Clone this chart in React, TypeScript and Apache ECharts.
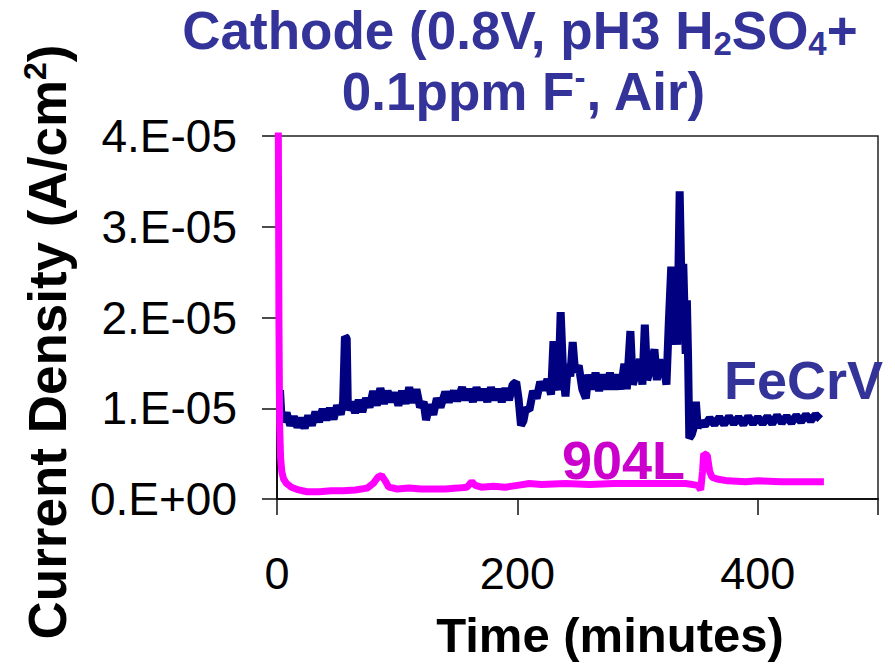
import React, { useEffect, useRef } from "react";
import * as echarts from "echarts";

const FONT = "'Liberation Sans', Arial, Helvetica, sans-serif";

// Time axis ticks (minutes) and current-density tick labels (A/cm²)
const xTickLabels = ["0", "200", "400"];
const yTickLabels = ["0.E+00", "1.E-05", "2.E-05", "3.E-05", "4.E-05"];

// FeCrV series: time (min) and current density (units of 1e-5 A/cm²)
const fecrvT = [
  2.5, 3.5, 5, 8, 11, 14, 17, 20, 23, 26, 29, 32, 35, 38, 41, 44, 47, 50, 53, 55,
  56.5, 58, 59, 62, 65, 68, 71, 74, 77, 80, 83, 86, 89, 92, 95, 98, 101, 104, 107, 110,
  113, 116, 119, 122, 124, 127, 130, 133, 136, 140, 143, 147, 150, 154, 157, 160, 163, 166, 169, 172,
  175, 178, 181, 184, 187, 190, 193, 196, 199, 201, 203, 205, 207, 210, 213, 216, 219, 222, 225, 228,
  230, 232, 234, 236, 238, 240, 242, 244, 246, 248, 251, 254, 257, 259, 262, 265, 268, 271, 274, 277,
  280, 283, 286, 289, 291, 294, 296, 299, 302, 304, 306, 308, 311, 314, 316, 318, 320, 322, 324, 326,
  328, 330, 331, 333, 335, 337, 338, 340, 341, 342, 343, 345, 347, 348.5, 350, 353, 356, 360, 364, 368,
  372, 376, 380, 384, 388, 392, 396, 400, 404, 408, 412, 416, 420, 424, 428, 432, 436, 440, 444, 448, 452,
];
const fecrvV = [
  1.2, 0.95, 0.85, 0.95, 0.81, 0.91, 0.79, 0.89, 0.78, 0.92, 0.81, 0.96, 0.85, 0.99, 0.87, 1.0, 0.88, 1.03, 0.93, 1.07,
  1.79, 1.77, 0.98, 1.07, 0.95, 1.09, 0.96, 1.11, 1.01, 1.19, 1.03, 1.22, 1.05, 1.19, 1.07, 1.17, 1.03, 1.19, 1.05, 1.23,
  1.06, 1.21, 1.01, 1.07, 0.87, 1.04, 0.93, 1.11, 1.01, 1.18, 1.07, 1.19, 1.08, 1.23, 1.09, 1.21, 1.07, 1.23, 1.09, 1.21,
  1.07, 1.23, 1.09, 1.21, 1.07, 1.22, 1.09, 1.26, 1.29, 1.1, 0.81, 0.86, 1.0, 0.98, 1.19, 1.11, 1.29, 1.2, 1.32, 1.15,
  1.74, 1.3, 1.2, 2.06, 1.4, 1.13, 1.49, 1.35, 1.73, 1.4, 1.47, 1.21, 1.11, 1.37, 1.21, 1.39, 1.19, 1.37, 1.21, 1.39,
  1.21, 1.37, 1.21, 1.49, 1.21, 1.85, 1.26, 1.4, 1.54, 1.26, 1.92, 1.31, 1.45, 1.65, 1.31, 1.54, 1.34, 1.45, 1.26, 1.96,
  2.56, 1.7, 2.04, 1.7, 3.39, 2.0, 2.59, 1.6, 2.19, 1.56, 0.67, 0.71, 0.8, 1.07, 0.79, 0.85, 0.81, 0.89, 0.82, 0.9,
  0.82, 0.91, 0.83, 0.9, 0.82, 0.91, 0.83, 0.9, 0.83, 0.91, 0.83, 0.92, 0.84, 0.91, 0.84, 0.92, 0.85, 0.93, 0.86, 0.93, 0.88,
];

// 904L series: time (min) and current density (units of 1e-5 A/cm²)
const s904T = [
  1.0, 1.6, 2.2, 3.0, 4.0, 5.5, 8, 12, 18, 25, 35, 45, 55, 65, 75, 80, 84, 87, 90, 93,
  100, 110, 120, 130, 140, 150, 158, 162, 165, 170, 180, 190, 200, 210, 220, 240, 260, 280, 300, 320,
  340, 350, 352.5, 354, 355, 358, 360, 362, 366, 375, 390, 400, 420, 440, 455,
];
const s904V = [
  4.5, 2.0, 0.8, 0.45, 0.3, 0.22, 0.17, 0.13, 0.1, 0.08, 0.08, 0.09, 0.09, 0.1, 0.12, 0.17, 0.24, 0.26, 0.2, 0.13,
  0.11, 0.12, 0.11, 0.11, 0.11, 0.12, 0.13, 0.19, 0.15, 0.13, 0.14, 0.13, 0.15, 0.17, 0.16, 0.17, 0.16, 0.17, 0.17, 0.17,
  0.17, 0.15, 0.1, 0.3, 0.5, 0.48, 0.3, 0.24, 0.22, 0.2, 0.19, 0.2, 0.19, 0.19, 0.19,
];

export default function App() {
  const ref = useRef<HTMLDivElement>(null);
  useEffect(() => {
    const chart = echarts.init(ref.current!, null, { renderer: "svg" });
    const titleColor = "#333399";
    const titleRich = {
      a: { fontSize: 53, fontWeight: "bold", fontFamily: FONT, fill: titleColor, lineHeight: 60 },
      sub: { fontSize: 33, fontWeight: "bold", fontFamily: FONT, fill: titleColor, verticalAlign: "bottom" },
      sup: { fontSize: 33, fontWeight: "bold", fontFamily: FONT, fill: titleColor, verticalAlign: "top" },
    };
    const option: any = {
      animation: false,
      backgroundColor: "#ffffff",
      grid: {
        left: 277,
        top: 136,
        width: 601,
        height: 363,
        show: true,
        borderColor: "#222",
        borderWidth: 1.5,
        backgroundColor: "transparent",
      },
      xAxis: {
        type: "value",
        min: 0,
        max: 500,
        interval: 200,
        axisLine: { show: true, onZero: false, lineStyle: { color: "#111", width: 2 } },
        axisTick: { show: true, length: 16, lineStyle: { color: "#111", width: 1.5 } },
        axisLabel: {
          margin: 52,
          fontSize: 45,
          color: "#000",
          fontFamily: FONT,
          formatter: (v: number) => xTickLabels[Math.round(v / 200)] ?? "",
        },
        splitLine: { show: false },
      },
      yAxis: {
        type: "value",
        min: 0,
        max: 4,
        interval: 1,
        axisLine: { show: true, onZero: false, lineStyle: { color: "#111", width: 2 } },
        axisTick: { show: true, length: 15, lineStyle: { color: "#111", width: 1.5 } },
        axisLabel: {
          margin: 40,
          fontSize: 46,
          color: "#000",
          fontFamily: FONT,
          formatter: (v: number) => yTickLabels[Math.round(v)] ?? "",
        },
        splitLine: { show: false },
      },
      series: [
        {
          type: "line",
          name: "FeCrV",
          data: fecrvT.map((t, i) => [t, fecrvV[i]]),
          showSymbol: false,
          symbol: "none",
          clip: true,
          lineStyle: { color: "#000080", width: 8 },
          itemStyle: { color: "#000080" },
          z: 2,
        },
        {
          type: "line",
          name: "904L",
          data: s904T.map((t, i) => [t, s904V[i]]),
          showSymbol: false,
          symbol: "none",
          clip: true,
          lineStyle: { color: "#FF00FF", width: 7 },
          itemStyle: { color: "#FF00FF" },
          z: 3,
        },
      ],
      graphic: [
        {
          type: "text",
          x: 520,
          y: 0,
          z: 10,
          style: {
            text: "{a|Cathode (0.8V, pH3 H}{sub|2}{a|SO}{sub|4}{a|+}",
            rich: titleRich,
            align: "center",
            verticalAlign: "top",
          },
        },
        {
          type: "text",
          x: 524,
          y: 61,
          z: 10,
          style: {
            text: "{a|0.1ppm F}{sup|-}{a|, Air)}",
            rich: titleRich,
            align: "center",
            verticalAlign: "top",
          },
        },
        {
          type: "text",
          x: 724,
          y: 380,
          z: 10,
          style: {
            text: "FeCrV",
            fill: "#333399",
            font: `bold 54px ${FONT}`,
            align: "left",
            verticalAlign: "middle",
          },
        },
        {
          type: "text",
          x: 562,
          y: 460,
          z: 10,
          style: {
            text: "904L",
            fill: "#CC00CC",
            font: `bold 54px ${FONT}`,
            align: "left",
            verticalAlign: "middle",
          },
        },
        {
          type: "text",
          x: 610,
          y: 635,
          z: 10,
          style: {
            text: "Time (minutes)",
            fill: "#000",
            font: `bold 49px ${FONT}`,
            align: "center",
            verticalAlign: "middle",
          },
        },
        {
          type: "text",
          x: 47,
          y: 342,
          rotation: Math.PI / 2,
          z: 10,
          style: {
            text: "{a|Current Density (A/cm}{sup|2}{a|)}",
            rich: {
              a: { fontSize: 53, fontWeight: "bold", fontFamily: FONT, fill: "#000", lineHeight: 56 },
              sup: { fontSize: 32, fontWeight: "bold", fontFamily: FONT, fill: "#000", verticalAlign: "top" },
            },
            align: "center",
            verticalAlign: "middle",
          },
        },
      ],
    };
    chart.setOption(option);
    return () => chart.dispose();
  }, []);
  return (
    <div
      ref={ref}
      style={{ position: "fixed", left: 0, top: 0, width: 895, height: 669, background: "#fff" }}
    />
  );
}
